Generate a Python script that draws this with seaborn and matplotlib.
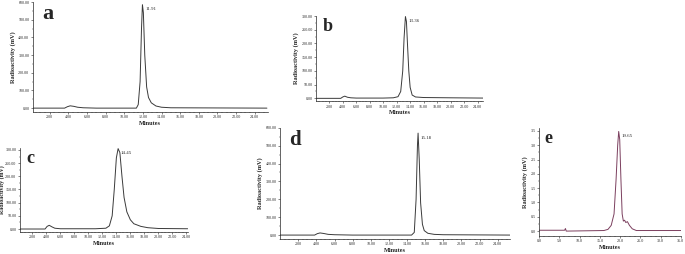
import numpy as np
import pandas as pd
import seaborn as sns
import matplotlib.pyplot as plt
from matplotlib.ticker import AutoMinorLocator, FormatStrFormatter

# chromatogram traces (minutes, mV)
a_time = [0.2, 3.6, 3.9, 4.2, 4.6, 5.0, 5.6, 7.0, 10.0, 11.3, 11.5, 11.7, 11.85, 11.95, 12.05, 12.2, 12.4, 12.6, 12.9, 13.4, 14.0, 15.0, 25.3]
a_signal = [0, 0, 8, 13, 10, 5, 2, 0, 0, 0, 20, 150, 450, 585, 540, 300, 120, 60, 30, 12, 5, 2, 0]

b_time = [0.1, 3.7, 4.0, 4.3, 4.7, 5.2, 6.0, 10.0, 11.5, 12.2, 12.6, 12.9, 13.1, 13.3, 13.45, 13.6, 13.8, 14.0, 14.3, 14.8, 16.0, 20.0, 24.8]
b_signal = [0, 0, 5, 8, 4, 2, 1, 1, 2, 6, 25, 100, 220, 298, 280, 200, 100, 40, 12, 5, 3, 2, 1]

c_time = [0.2, 3.8, 4.1, 4.4, 4.8, 5.2, 6.0, 11.0, 12.5, 13.0, 13.4, 13.7, 14.0, 14.25, 14.5, 14.8, 15.1, 15.5, 16.0, 16.5, 17.5, 18.5, 20.0, 24.2]
c_signal = [0, 0, 10, 14, 8, 3, 1, 1, 3, 12, 50, 150, 270, 305, 290, 200, 120, 65, 35, 20, 10, 5, 2, 1]

d_time = [0.0, 3.8, 4.1, 4.4, 4.8, 5.3, 6.0, 8.0, 14.5, 14.8, 15.0, 15.15, 15.22, 15.35, 15.5, 15.7, 15.9, 16.3, 17.0, 18.0, 25.4]
d_signal = [0, 0, 8, 12, 9, 4, 2, 0, 0, 15, 200, 500, 570, 420, 180, 60, 25, 10, 4, 2, 0]

e_time = [0.0, 6.3, 6.5, 6.7, 16.0, 17.0, 17.8, 18.5, 19.0, 19.4, 19.65, 19.9, 20.2, 20.5, 20.8, 21.1, 21.4, 21.8, 22.3, 23.0, 24.0, 35.0]
e_signal = [0.03, 0.03, 0.09, 0.0, 0.02, 0.06, 0.2, 0.6, 1.8, 3.0, 3.48, 3.2, 1.8, 0.6, 0.35, 0.38, 0.3, 0.33, 0.2, 0.08, 0.02, 0.02]

peak_labels = ["11.91", "13.36", "14.45", "15.18", "19.65"]
panel_letters = ["a", "b", "c", "d", "e"]

sns.set_style("ticks")
plt.rcParams["font.family"] = ["Liberation Serif", "DejaVu Serif"]

fig = plt.figure(figsize=(6.85, 2.54), dpi=100)

panels = [
    # rect, time, signal, xlim, ylim, yticks, xticks, color, letter size, ylabel pad
    ([0.048, 0.559, 0.343, 0.433], a_time, a_signal, (0.2, 25.4), (-22, 600), np.arange(0, 601, 100), np.arange(2, 25, 2), "#3a3a3a", 16, 2),
    ([0.462, 0.602, 0.243, 0.335], b_time, b_signal, (0.1, 24.8), (-10, 300), np.arange(0, 301, 50), np.arange(2, 25, 2), "#3a3a3a", 13, 2),
    ([0.029, 0.088, 0.245, 0.329], c_time, c_signal, (0.2, 24.2), (-10, 307), np.arange(0, 301, 50), np.arange(2, 25, 2), "#3a3a3a", 13, 0),
    ([0.409, 0.059, 0.336, 0.438], d_time, d_signal, (0.0, 25.4), (-22, 600), np.arange(0, 601, 100), np.arange(2, 25, 2), "#3a3a3a", 15, 2),
    ([0.787, 0.071, 0.207, 0.425], e_time, e_signal, (0.0, 35.0), (-0.17, 3.6), np.arange(0, 3.51, 0.5), np.arange(0, 36, 5), "#7b3f5e", 13, 2),
]

for i, (rect, t, s, xl, yl, yt, xt, col, lsize, ypad) in enumerate(panels):
    ax = fig.add_axes(rect)
    df = pd.DataFrame({"t": t, "s": s})
    sns.lineplot(data=df, x="t", y="s", ax=ax, color=col, lw=0.7)
    ax.set_xlim(*xl)
    ax.set_ylim(*yl)
    ax.set_yticks(yt)
    ax.set_xticks(xt)
    if i == 4:
        ax.xaxis.set_major_formatter(FormatStrFormatter("%.1f"))
        ax.yaxis.set_major_formatter(FormatStrFormatter("%.1f"))
    else:
        ax.xaxis.set_major_formatter(FormatStrFormatter("%.2f"))
        ax.yaxis.set_major_formatter(FormatStrFormatter("%.2f"))
    ax.xaxis.set_minor_locator(AutoMinorLocator(4))
    ax.yaxis.set_minor_locator(AutoMinorLocator(2))
    ax.tick_params(which="major", labelsize=3, length=1.5, width=0.4, pad=1)
    ax.tick_params(which="minor", length=0.8, width=0.3)
    sns.despine(ax=ax)
    for sp in ["left", "bottom"]:
        ax.spines[sp].set_linewidth(0.5)
    ax.set_xlabel("Minutes", fontsize=4.5, fontweight="bold", labelpad=1)
    ax.set_ylabel("Radioactivity (mV)", fontsize=4.2 if i == 2 else 4.5,
                  fontweight="bold", labelpad=ypad)
    k = int(np.argmax(s))
    ax.annotate(peak_labels[i], (t[k], s[k]), xytext=(2, -2), textcoords="offset points",
                fontsize=3.5, va="top", ha="left")
    ax.text(0.04, 0.98, panel_letters[i], transform=ax.transAxes, fontsize=lsize,
            fontweight="bold", va="top", ha="left")

fig.savefig("out.png", dpi=100, facecolor="white")
